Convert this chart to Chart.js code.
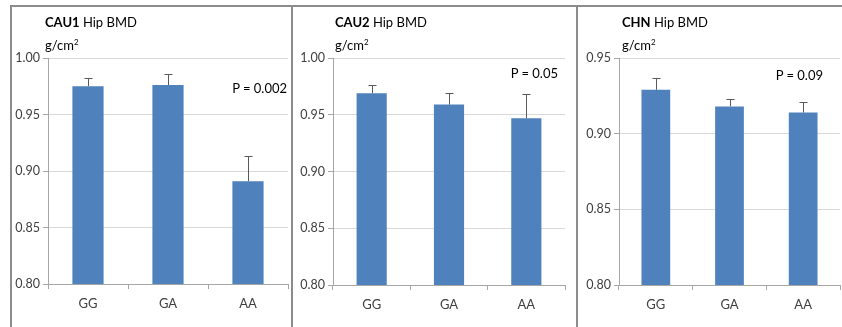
<!DOCTYPE html>
<html lang="en">
<head>
<meta charset="utf-8">
<script src="https://cdn.jsdelivr.net/npm/chart.js"></script>
<style>
    body { margin: 0; background: #fff; width: 842px; height: 327px; overflow: hidden; position: relative; font-family: Lato, "Open Sans", sans-serif; }
    .frame { position: absolute; background: #8c8c8c; }
    .cv { position: absolute; }
    .title { position: absolute; font-size: 13px; color: #000; line-height: 16px; white-space: nowrap; }
    .unit { position: absolute; font-size: 13px; color: #000; line-height: 16px; white-space: nowrap; }
    .unit sup { font-size: 8px; vertical-align: 5px; }
    .pval { position: absolute; font-size: 13px; color: #000; line-height: 16px; white-space: nowrap; text-align: right; }
</style>
</head>
<body>

<div class="frame" style="left:10px; top:5px; width:832px; height:2px;"></div>
<div class="frame" style="left:10px; top:5px; width:2px; height:322px;"></div>
<div class="frame" style="left:291px; top:5px; width:2px; height:322px;"></div>
<div class="frame" style="left:576px; top:5px; width:2px; height:322px;"></div>

<canvas id="c1" class="cv" style="left:12px; top:8px;" width="279" height="319"></canvas>
<canvas id="c2" class="cv" style="left:293px; top:8px;" width="283" height="319"></canvas>
<canvas id="c3" class="cv" style="left:578px; top:8px;" width="264" height="319"></canvas>

<div class="title" style="left:45px; top:14px;"><b>CAU1</b> Hip BMD</div>
<div class="unit" style="left:45px; top:34px;">g/cm<sup>2</sup></div>
<div class="pval" style="right:555px; top:80px;">P = 0.002</div>

<div class="title" style="left:335px; top:14px;"><b>CAU2</b> Hip BMD</div>
<div class="unit" style="left:335px; top:34px;">g/cm<sup>2</sup></div>
<div class="pval" style="right:284px; top:65px;">P = 0.05</div>

<div class="title" style="left:622px; top:14px;"><b>CHN</b> Hip BMD</div>
<div class="unit" style="left:622px; top:34px;">g/cm<sup>2</sup></div>
<div class="pval" style="right:19px; top:67px;">P = 0.09</div>

<script>
    const categories = ['GG', 'GA', 'AA'];

    const cau1Means = [0.975, 0.976, 0.891];
    const cau1Err = [0.007, 0.010, 0.022];

    const cau2Means = [0.969, 0.959, 0.947];
    const cau2Err = [0.007, 0.010, 0.021];

    const chnMeans = [0.929, 0.918, 0.914];
    const chnErr = [0.008, 0.005, 0.007];

    const cau1Ticks = [0.80, 0.85, 0.90, 0.95, 1.00];
    const cau2Ticks = [0.80, 0.85, 0.90, 0.95, 1.00];
    const chnTicks = [0.80, 0.85, 0.90, 0.95];

    // upper error whisker with cap, Excel style
    const errorBars = {
        id: 'errorBars',
        afterDatasetsDraw(chart, args, opts) {
            const ctx = chart.ctx;
            const meta = chart.getDatasetMeta(0);
            const y = chart.scales.y;
            const means = chart.data.datasets[0].data;
            ctx.save();
            ctx.strokeStyle = '#595959';
            ctx.lineWidth = 1;
            meta.data.forEach(function(bar, i) {
                const x = Math.round(bar.x) + 0.5;
                const top = y.getPixelForValue(means[i]);
                const hi = Math.round(y.getPixelForValue(means[i] + opts.err[i])) + 0.5;
                ctx.beginPath();
                ctx.moveTo(x, top);
                ctx.lineTo(x, hi);
                ctx.moveTo(x - 4, hi);
                ctx.lineTo(x + 4, hi);
                ctx.stroke();
            });
            ctx.restore();
        }
    };

    function buildChart(id, means, err, ticks, pad) {
        return new Chart(document.getElementById(id), {
            type: 'bar',
            data: {
                labels: categories,
                datasets: [{
                    data: means,
                    backgroundColor: '#4f81bd',
                    borderWidth: 0,
                    barPercentage: 0.39,
                    categoryPercentage: 1
                }]
            },
            options: {
                responsive: false,
                animation: false,
                events: [],
                layout: { padding: { top: 50, right: pad.right, bottom: 0, left: 0 } },
                plugins: {
                    legend: { display: false },
                    tooltip: { enabled: false },
                    errorBars: { err: err }
                },
                scales: {
                    x: {
                        grid: { drawOnChartArea: false, drawTicks: true, tickLength: 5, color: '#a6a6a6' },
                        border: { color: '#a6a6a6', width: 1 },
                        ticks: { color: '#404040', font: { family: 'Lato', size: 13 }, padding: 7 },
                        afterFit: function(scale) { scale.height = pad.bottom; }
                    },
                    y: {
                        min: ticks[0],
                        max: ticks[ticks.length - 1],
                        afterBuildTicks: function(scale) {
                            scale.ticks = ticks.map(function(v) { return { value: v }; });
                        },
                        grid: { color: '#d9d9d9', tickLength: 5, tickColor: '#a6a6a6' },
                        border: { color: '#a6a6a6', width: 1 },
                        ticks: {
                            color: '#404040',
                            font: { family: 'Lato', size: 12.5 },
                            padding: 3,
                            callback: function(v) { return Number(v).toFixed(2); }
                        },
                        afterFit: function(scale) { scale.width = pad.left; }
                    }
                }
            },
            plugins: [errorBars]
        });
    }

    buildChart('c1', cau1Means, cau1Err, cau1Ticks, { left: 36, right: 3, bottom: 43 });
    buildChart('c2', cau2Means, cau2Err, cau2Ticks, { left: 40, right: 11, bottom: 42 });
    buildChart('c3', chnMeans, chnErr, chnTicks, { left: 41, right: 2, bottom: 42 });
</script>
</body>
</html>
